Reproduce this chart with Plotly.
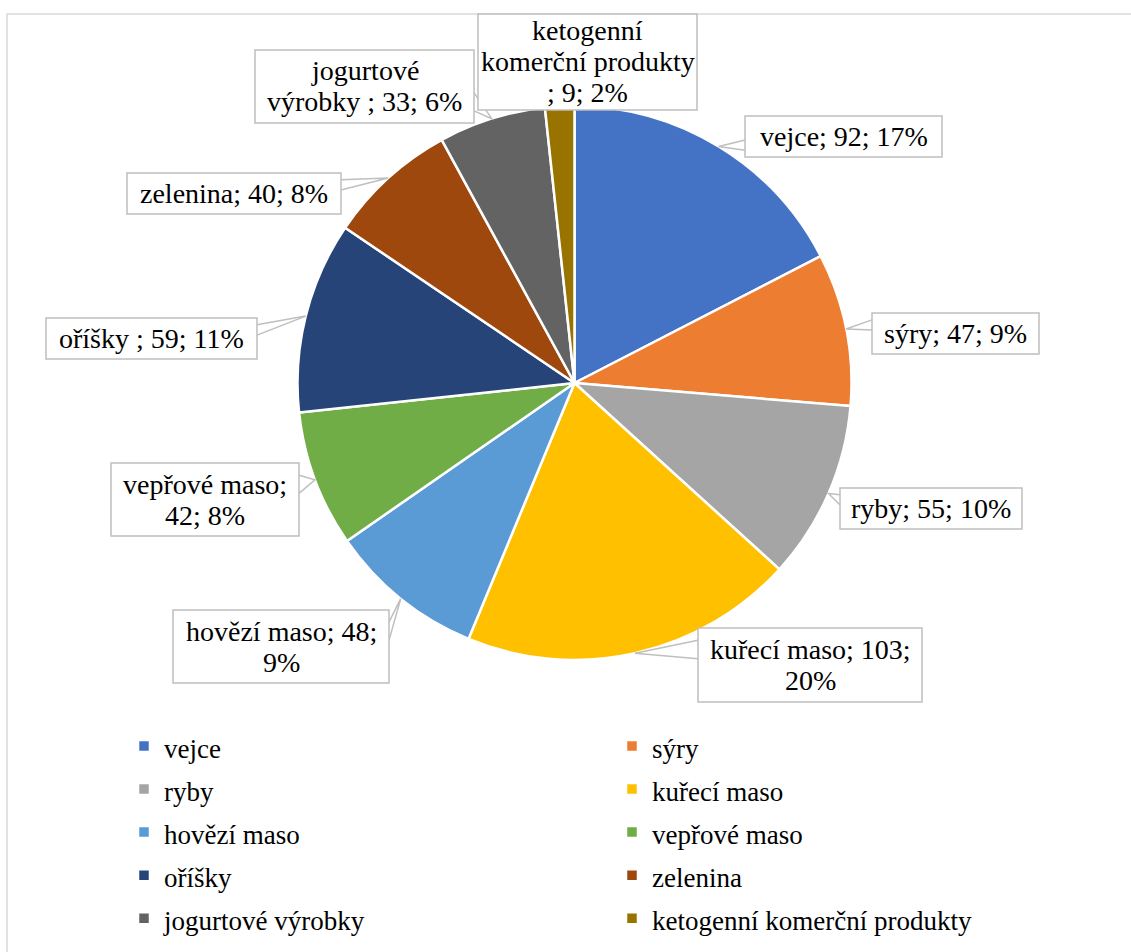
import textwrap
import numpy as np
import plotly.graph_objects as go

# ---------------- data ----------------
categories = ["vejce", "sýry", "ryby", "kuřecí maso", "hovězí maso",
              "vepřové maso", "oříšky ", "zelenina", "jogurtové výrobky ",
              "ketogenní komerční produkty "]
values = [92, 47, 55, 103, 48, 42, 59, 40, 33, 9]
colors = ["#4472C4", "#ED7D31", "#A5A5A5", "#FFC000", "#5B9BD5",
          "#70AD47", "#264478", "#9E480E", "#636363", "#997300"]

# ---------------- layout constants (pixels) ----------------
W, H = 1131, 952
CX, CY, R = 574.5, 383.0, 277.0
FONT = "Liberation Serif, Times New Roman, serif"
LINE_COL = "#BFBFBF"
# data-label boxes: x0, y0, x1, y1
label_boxes = [
    (745, 116, 942, 157),
    (872, 313, 1039, 354),
    (840, 488, 1022, 529),
    (698, 628, 922, 702),
    (173, 610, 389, 683),
    (111, 463, 299, 536),
    (46, 318, 257, 359),
    (127, 173, 341, 214),
    (255, 50, 474, 123),
    (478, 14, 697, 110),
]
wrap_widths = [40, 40, 40, 17, 16, 13, 40, 40, 16, 17]
LINE_STEP = 31


def px(x):
    return x / W


def py(y):
    return 1 - y / H


legend_labels = [f"<span style='font-size:27px'>{c}</span>" for c in categories]

fig = go.Figure()
fig.add_trace(go.Pie(
    labels=legend_labels, values=values, sort=False, direction="clockwise",
    rotation=0, textinfo="none", hoverinfo="label+value+percent",
    marker=dict(colors=colors, line=dict(color="white", width=2.5)),
    domain=dict(x=[px(CX - R), px(CX + R)], y=[py(CY + R), py(CY - R)]),
    showlegend=True,
))

shapes = []
annotations = []
# chart border
shapes.append(dict(type="rect", xref="paper", yref="paper",
                   x0=px(7), x1=px(1145), y0=py(14), y1=py(965),
                   line=dict(color="#D9D9D9", width=1.5), layer="below"))

total = float(sum(values))
vals = np.array(values, dtype=float)
mid = (np.cumsum(vals) - vals / 2) / total * 2 * np.pi
tips_x = CX + R * np.sin(mid)
tips_y = CY - R * np.cos(mid)

for i, cat in enumerate(categories):
    pct = round(values[i] / total * 100)
    text = f"{cat}; {values[i]}; {pct}%"
    lines = textwrap.wrap(text, wrap_widths[i])
    x0, y0, x1, y1 = label_boxes[i]
    tx, ty = tips_x[i], tips_y[i]
    w, h = x1 - x0, y1 - y0
    inside = (x0 <= tx <= x1) and (y0 - 6 <= ty <= y1 + 6)
    if not inside:
        if tx < x0 or tx > x1:
            ex = x0 if tx < x0 else x1
            if ty < (y0 + y1) / 2:
                b1, b2 = (ex, y0 + h * 2 / 12), (ex, y0 + h * 5 / 12)
            else:
                b1, b2 = (ex, y0 + h * 7 / 12), (ex, y0 + h * 10 / 12)
        else:
            ey = y0 if ty < y0 else y1
            if tx < (x0 + x1) / 2:
                b1, b2 = (x0 + w * 2 / 12, ey), (x0 + w * 5 / 12, ey)
            else:
                b1, b2 = (x0 + w * 7 / 12, ey), (x0 + w * 10 / 12, ey)
        path = (f"M{px(b1[0])},{py(b1[1])} L{px(tx)},{py(ty)} "
                f"L{px(b2[0])},{py(b2[1])}")
        shapes.append(dict(type="path", xref="paper", yref="paper", path=path,
                           line=dict(color=LINE_COL, width=1.5)))
    shapes.append(dict(type="rect", xref="paper", yref="paper",
                       x0=px(x0), x1=px(x1), y0=py(y0), y1=py(y1),
                       fillcolor="white", line=dict(color=LINE_COL, width=1.5)))
    n = len(lines)
    cy = (y0 + y1) / 2
    for k, ln in enumerate(lines):
        ly = cy + (k - (n - 1) / 2) * LINE_STEP
        annotations.append(dict(
            xref="paper", yref="paper", x=px((x0 + x1) / 2), y=py(ly),
            xanchor="center", yanchor="middle", text=ln, showarrow=False,
            font=dict(family=FONT, size=28, color="black")))

fig.update_layout(
    width=W, height=H, margin=dict(l=0, r=0, t=0, b=0),
    paper_bgcolor="white", plot_bgcolor="white",
    shapes=shapes, annotations=annotations,
    legend=dict(orientation="h", x=px(124), y=py(719.5), xanchor="left",
                yanchor="top", entrywidth=443, entrywidthmode="pixels",
                font=dict(family=FONT, size=30.8, color="black"),
                bgcolor="rgba(0,0,0,0)"),
)

fig.write_html("out.html")
